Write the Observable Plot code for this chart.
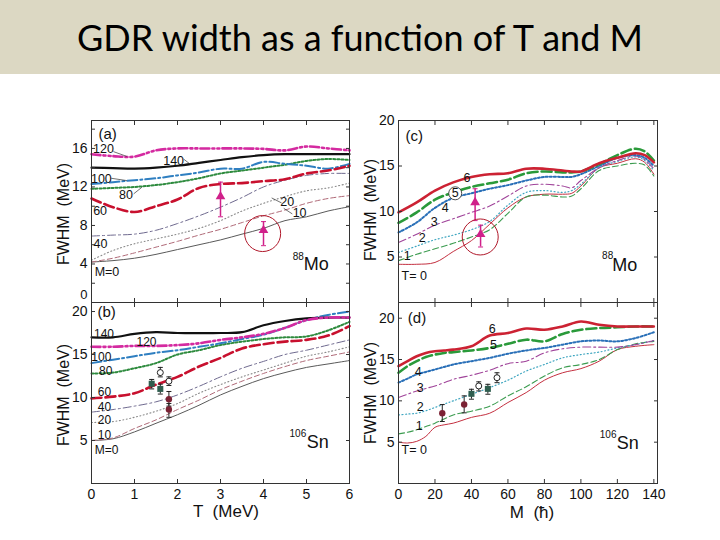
<!DOCTYPE html>
<html><head><meta charset="utf-8">
<script src="https://cdn.jsdelivr.net/npm/d3@7"></script>
<script src="https://cdn.jsdelivr.net/npm/@observablehq/plot@0.6"></script>
<style>
body{margin:0;background:#fff;}
#wrap{position:relative;width:720px;height:540px;overflow:hidden;font-family:"Liberation Sans",Arial,sans-serif;color:#111;}
#banner{position:absolute;left:0;top:0;width:720px;height:74px;background:#dcd8c3;}
#title{position:absolute;left:0;top:0;width:720px;text-align:center;font-family:Lato,"Open Sans",sans-serif;font-size:36px;line-height:74px;color:#000;white-space:nowrap;}
.pl{position:absolute;}
.pl svg{overflow:visible;background:transparent;}
.ylab{position:absolute;transform:translate(-50%,-50%) rotate(-90deg);white-space:pre;font-size:16px;}
.xlab{position:absolute;transform:translate(-50%,-50%);white-space:pre;font-size:17px;}
</style></head>
<body><div id="wrap">
<div id="banner"></div>
<div id="title">GDR width as a function of T and M</div>
</div>
<script>
// ---------- grids ----------
const T_GRID = [0,0.5,1,1.5,2,2.5,3,3.5,4,4.5,5,5.5,6];
const M_GRID_C = [0,10,20,30,40,50,60,70,80,90,95,100,110,120,130,135,140];
const M_GRID_D = [0,5,10,15,20,25,30,40,50,60,70,80,90,100,110,120,130,140];

// ---------- panel (a): 88Mo, FWHM vs T ----------
const moT_M0   = [4.2,4.35,4.6,5.0,5.5,6.0,6.5,7.1,7.7,8.5,8.9,9.5,9.95];
const moT_M10  = [4.2,4.6,5.15,5.75,6.35,7.0,7.6,8.3,9.0,9.6,10.3,10.8,11.1];
const moT_M20  = [4.4,5.4,6.1,6.6,7.1,7.7,8.5,9.5,10.3,11.0,11.6,11.9,12.4];
const moT_M40  = [6.9,7.0,7.1,7.5,8.2,9.0,9.9,10.9,12.0,12.7,13.2,13.4,13.4];
const moT_M60  = [10.8,9.9,9.4,10.0,10.7,11.9,12.3,12.4,12.6,12.8,13.4,13.7,14.2];
const moT_M80  = [11.8,11.9,12.0,12.2,12.5,12.9,13.4,13.7,14.0,14.3,14.7,14.9,14.8];
const moT_M100 = [12.3,12.5,12.7,12.9,13.2,13.5,13.9,13.9,14.6,14.4,14.2,13.9,14.4];
const moT_M120 = [15.4,15.2,15.15,15.8,16.0,16.0,16.0,16.0,15.95,15.8,16.2,16.0,15.8];
const moT_M140 = [14.0,13.95,13.9,14.0,14.2,14.5,14.8,15.1,15.3,15.4,15.4,15.4,15.4];

// ---------- panel (b): 106Sn, FWHM vs T ----------
const snT_M0   = [5.0,5.2,6.0,7.0,8.0,9.1,10.3,11.3,12.2,12.9,13.5,13.9,14.3];
const snT_M10  = [5.0,5.3,6.4,7.4,8.6,9.7,10.9,11.9,12.8,13.6,14.3,14.8,15.3];
const snT_M20  = [7.1,7.2,7.7,8.4,9.3,10.5,11.5,12.4,13.2,14.0,14.8,15.3,15.9];
const snT_M40  = [8.3,8.6,9.0,9.5,10.3,11.3,12.4,13.4,14.2,15.0,15.5,16.1,16.7];
const snT_M60  = [9.9,10.1,10.5,11.5,12.4,13.6,14.6,15.7,16.2,16.5,16.7,17.2,18.3];
const snT_M80  = [12.8,12.9,13.4,14.0,15.0,15.5,16.1,16.5,16.8,17.0,17.1,17.8,18.8];
const snT_M100 = [14.0,14.4,14.8,15.2,15.5,15.9,16.3,16.8,17.3,18.1,19.0,19.6,20.0];
const snT_M120 = [15.9,15.9,16.0,16.0,16.1,16.3,16.7,17.0,17.4,18.1,19.0,19.3,19.3];
const snT_M140 = [17.0,17.0,17.4,17.6,17.5,17.5,17.5,17.6,18.4,18.9,19.2,19.3,19.3];

// ---------- panel (c): 88Mo, FWHM vs M ----------
const moM_T0 = [4.2,4.2,4.4,5.6,6.8,8.6,10.4,11.6,11.9,11.9,12.0,12.8,14.8,15.3,15.8,15.4,14.1];
const moM_T1 = [4.6,5.3,5.9,6.5,7.2,8.0,9.8,11.6,11.8,11.6,11.7,12.5,14.5,15.0,15.3,15.1,13.9];
const moM_T2 = [5.5,6.2,6.9,7.4,8.0,8.9,10.7,12.1,12.3,12.1,12.3,13.0,14.8,15.5,16.0,15.6,14.5];
const moM_T3 = [6.6,7.5,8.5,9.2,9.9,10.6,11.7,12.8,13.0,12.8,12.6,13.4,14.8,15.6,16.1,15.7,14.7];
const moM_T4 = [7.7,8.8,10.4,11.5,12.0,12.5,12.9,13.4,13.8,13.8,13.8,14.1,15.0,15.9,16.2,15.9,15.0];
const moM_T5 = [8.75,9.9,11.3,12.1,12.7,13.1,13.5,14.2,14.4,14.3,14.3,14.4,15.2,16.2,16.9,16.6,15.6];
const moM_T6 = [9.9,11.0,12.3,13.2,13.8,14.1,14.2,14.7,14.7,14.5,14.4,14.4,15.3,15.9,16.4,16.2,15.4];

// ---------- panel (d): 106Sn, FWHM vs M ----------
const snM_T0 = [5.0,4.9,5.1,5.7,6.8,7.1,7.3,8.0,8.5,9.8,11.0,12.5,13.4,13.9,14.8,16.2,16.6,16.8];
const snM_T1 = [6.0,6.2,6.5,6.9,7.3,7.8,8.3,8.75,9.35,10.6,11.7,13.0,14.0,14.4,15.0,16.2,16.9,17.2];
const snM_T2 = [8.3,8.4,8.5,8.8,9.2,9.6,10.0,10.8,11.6,12.5,13.6,14.4,15.2,15.6,15.9,16.4,16.8,17.3];
const snM_T3 = [10.4,10.8,11.2,11.5,11.8,12.2,12.6,13.1,13.7,14.5,14.8,15.8,16.3,16.5,16.5,16.5,16.8,17.3];
const snM_T4 = [12.2,12.7,13.2,13.5,13.8,14.1,14.4,14.8,15.2,15.7,16.1,16.4,16.8,17.2,17.3,17.2,17.6,18.3];
const snM_T5 = [13.4,14.2,14.8,15.3,15.6,15.8,15.9,16.1,16.4,16.9,17.4,17.2,18.1,18.6,18.8,18.9,19.0,19.0];
const snM_T6 = [14.2,14.8,15.4,15.8,16.0,16.1,16.2,16.6,17.9,18.2,18.75,18.6,19.0,19.6,19.2,19.0,19.0,19.0];

// ---------- experimental points ----------
const moTri_T = [3, 4];          const moTri_W = [11.0, 7.5];  const moTri_lo = [8.9, 5.9];  const moTri_hi = [12.5, 8.4];
const moTri_M = [42, 45];
const moTri_Wc = [11.0, 7.5];    const moTri_loc = [9.0, 6.1]; const moTri_hic = [12.5, 8.5];
const snSq_T = [1.4, 1.6];  const snSq_W = [11.6, 11.0]; const snSq_lo = [11.0, 10.4]; const snSq_hi = [12.1, 11.55];
const snOp_T = [1.6, 1.8];  const snOp_W = [12.9, 11.9]; const snOp_lo = [12.4, 11.4]; const snOp_hi = [13.5, 12.4];
const snFc_T = [1.8, 1.8];  const snFc_W = [9.8, 8.6];   const snFc_lo = [9.0, 7.7];   const snFc_hi = [10.7, 9.3];
const snFc_M = [24, 36];    const snFc_Wd = [8.5, 9.55]; const snFc_lod = [7.5, 8.55]; const snFc_hid = [9.55, 10.6];
const snSq_M = [40, 49];    const snSq_Wd = [10.85, 11.45]; const snSq_lod = [10.2, 10.8]; const snSq_hid = [11.4, 12.0];
const snOp_M = [44, 54];    const snOp_Wd = [11.8, 12.8]; const snOp_lod = [11.2, 12.2]; const snOp_hid = [12.3, 13.4];

// ---------- curve labels ----------
const labA = [["120",0.28,15.9],["140",1.91,14.7],["100",0.23,12.8],["80",0.80,11.2],["60",0.2,9.55],["40",0.21,6.1],["M=0",0.36,3.15],["20",4.55,10.4],["10",4.84,9.26]];
const leadA = [[0.51,15.67,0.82,15.17],[2.14,14.9,2.3,14.35],[0.46,12.9,0.82,12.66],[0.98,11.28,1.17,11.96],[4.19,10.86,4.42,10.34],[4.47,9.78,4.67,9.2]];
const labB = [["140",0.29,17.4],["120",1.28,16.45],["100",0.23,14.7],["80",0.33,13.1],["60",0.3,10.6],["40",0.3,8.85],["20",0.3,7.35],["10",0.3,5.6],["M=0",0.35,3.9]];
const labC = [["6",37.6,13.7],["5",31.1,12.0],["4",25.6,10.4],["3",19.6,8.9],["2",13.0,7.07],["1",4.8,5.16],["T= 0",8.6,2.86]];
const labD = [["6",51.4,18.7],["5",52,16.8],["4",10.8,13.5],["3",11.9,11.5],["2",11.9,9.2],["1",11.3,6.9],["T= 0",8.6,4.1]];
const circ5C = [[31.1, 12.0]];
const ringA = [[3.98, 7.16]];
const ringC = [[44.8, 7.2]];

// ---------- styles ----------
const styleM = {
  0:   {stroke:"#5a5a5a", w:1,   dash:undefined},
  10:  {stroke:"#b06a78", w:1,   dash:"5,3"},
  20:  {stroke:"#8a8a8a", w:1.1, dash:"1,2.5"},
  40:  {stroke:"#6f6a8f", w:1,   dash:"8,3,2,3"},
  60:  {stroke:"#c8102e", w:2.6, dash:"10,4"},
  80:  {stroke:"#2e8b3e", w:2,   dash:"2,2"},
  100: {stroke:"#2f7fc1", w:2,   dash:"10,3,2,3"},
  120: {stroke:"#d42aa0", w:2.6, dash:"9,3,2,3,2,3"},
  140: {stroke:"#111111", w:2.2, dash:undefined}
};
const styleT = {
  0: {stroke:"#c43040", w:1,   dash:undefined},
  1: {stroke:"#3c9c50", w:1.1, dash:"6,3"},
  2: {stroke:"#3fa6c0", w:1.2, dash:"1,2.5"},
  3: {stroke:"#a0449a", w:1.1, dash:"8,3,2,3"},
  4: {stroke:"#2a70b8", w:2,   dash:"2,2"},
  5: {stroke:"#2a9a3a", w:2.6, dash:"10,4"},
  6: {stroke:"#cc2233", w:2.6, dash:undefined}
};

const seriesA = [[0,moT_M0],[10,moT_M10],[20,moT_M20],[40,moT_M40],[80,moT_M80],[100,moT_M100],[60,moT_M60],[140,moT_M140],[120,moT_M120]];
const seriesB = [[0,snT_M0],[10,snT_M10],[20,snT_M20],[40,snT_M40],[80,snT_M80],[100,snT_M100],[60,snT_M60],[140,snT_M140],[120,snT_M120]];
const seriesC = [[0,moM_T0],[1,moM_T1],[2,moM_T2],[3,moM_T3],[4,moM_T4],[5,moM_T5],[6,moM_T6]];
const seriesD = [[0,snM_T0],[1,snM_T1],[2,snM_T2],[3,snM_T3],[4,snM_T4],[5,snM_T5],[6,snM_T6]];

function lines(grid, series, styles) {
  return series.map(([k, vals]) => {
    const s = styles[k];
    const rows = grid.map((x, i) => ({x, y: vals[i]}));
    return Plot.line(rows, {x:"x", y:"y", stroke:s.stroke, strokeWidth:s.w, strokeDasharray:s.dash, curve:"catmull-rom"});
  });
}
const zipPts = (xs, ys, lo, hi) => xs.map((x,i) => ({x, y:ys[i], lo:lo[i], hi:hi[i]}));
const capSym = {draw(c, s){ const r = Math.sqrt(s/Math.PI); c.moveTo(-r,0); c.lineTo(r,0); }};
function errPts(pts, opts) {
  const col = opts.bar;
  return [
    Plot.ruleX(pts, {x:"x", y1:"lo", y2:"hi", stroke:col, strokeWidth:opts.bw ?? 1}),
    Plot.dot(pts, {x:"x", y:"lo", symbol:capSym, r:2.5, stroke:col, fill:"none", strokeWidth:1}),
    Plot.dot(pts, {x:"x", y:"hi", symbol:capSym, r:2.5, stroke:col, fill:"none", strokeWidth:1}),
    Plot.dot(pts, {x:"x", y:"y", symbol:opts.symbol, r:opts.r, fill:opts.fill, stroke:opts.stroke ?? "none", strokeWidth:1})
  ];
}
function textLabels(arr, size) {
  return Plot.text(arr, {x:d=>d[1], y:d=>d[2], text:d=>d[0], fontSize:size, fill:"#111", textAnchor:"middle", lineAnchor:"middle"});
}
function tag(t, dx, dy) {
  return Plot.text([t], {frameAnchor:"top-left", dx, dy, fontSize:15, textAnchor:"start", lineAnchor:"middle", fill:"#111"});
}
function nucleus(mass, sym, dxS, dyS, dxM, dyM) {
  return [
    Plot.text([sym], {frameAnchor:"bottom-right", dx:dxS, dy:dyS, fontSize:18, textAnchor:"end", lineAnchor:"middle", fill:"#111"}),
    Plot.text([mass], {frameAnchor:"bottom-right", dx:dxM, dy:dyM, fontSize:10, textAnchor:"end", lineAnchor:"middle", fill:"#111"})
  ];
}

function panel({x0, y0, fw, fh, xDomain, yDomain, xTicks, xMinor, yTicks, yLift, yMinor, showX, marks}) {
  const mL = 50, mR = 12, mT = 10, mB = showX ? 30 : 10;
  const chart = Plot.plot({
    width: fw + mL + mR, height: fh + mT + mB,
    marginLeft: mL, marginRight: mR, marginTop: mT, marginBottom: mB,
    style: {background:"transparent", overflow:"visible", fontFamily:"'Liberation Sans', Arial, sans-serif", color:"#111"},
    x: {domain: xDomain}, y: {domain: yDomain},
    marks: [
      ...marks,
      Plot.axisY(yMinor, {anchor:"left", tickSize:-4, tickFormat:()=>"", label:null, stroke:"#333"}),
      Plot.axisY(yMinor, {anchor:"right", tickSize:-4, tickFormat:()=>"", label:null, stroke:"#333"}),
      Plot.axisX(xMinor, {anchor:"top", tickSize:-4, tickFormat:()=>"", label:null, stroke:"#333"}),
      Plot.axisX(xMinor, {anchor:"bottom", tickSize:-4, tickFormat:()=>"", label:null, stroke:"#333"}),
      Plot.axisY(yTicks, {anchor:"left", tickSize:0, tickPadding:4, fontSize:14, label:null, tickFormat:d=>String(d)}),
      ...(yLift ? [Plot.axisY(yLift, {anchor:"left", tickSize:0, tickPadding:4, fontSize:13, label:null, dy:-8, tickFormat:d=>String(d)})] : []),
      ...(showX ? [Plot.axisX(xTicks, {anchor:"bottom", tickSize:0, tickPadding:6, fontSize:14, label:null, tickFormat:d=>String(d)})] : []),
      Plot.frame({stroke:"#333", strokeWidth:1})
    ]
  });
  const div = document.createElement("div");
  div.className = "pl";
  div.style.left = (x0 - mL) + "px";
  div.style.top = (y0 - mT) + "px";
  div.appendChild(chart);
  document.getElementById("wrap").appendChild(div);
}

const mag = "#d0208a";
const triA = zipPts(moTri_T, moTri_W, moTri_lo, moTri_hi);
const triC = zipPts(moTri_M, moTri_Wc, moTri_loc, moTri_hic);

panel({x0:91, y0:120, fw:258, fh:182, xDomain:[0,6], yDomain:[0,18.9],
  xTicks:[0,1,2,3,4,5,6], xMinor:[1,2,3,4,5], yTicks:[4,8,12,16], yLift:[0], yMinor:[2,4,6,8,10,12,14,16,18], showX:false,
  marks:[
    ...lines(T_GRID, seriesA, styleM),
    Plot.link(leadA, {x1:d=>d[0], y1:d=>d[1], x2:d=>d[2], y2:d=>d[3], stroke:"#333", strokeWidth:0.7}),
    textLabels(labA, 12.5),
    ...errPts(triA, {bar:mag, bw:1.5, symbol:"triangle", r:3.6, fill:mag}),
    Plot.dot(ringA, {x:d=>d[0], y:d=>d[1], r:18, stroke:"#b0182a", fill:"none", strokeWidth:1}),
    tag("(a)", 7, 13.5),
    ...nucleus("88", "Mo", -20.7, -38.5, -45.7, -45.3)
  ]});

panel({x0:91, y0:302, fw:258, fh:181, xDomain:[0,6], yDomain:[0,21.05],
  xTicks:[0,1,2,3,4,5,6], xMinor:[1,2,3,4,5], yTicks:[5,10,15,20], yMinor:[5,10,15,20], showX:true,
  marks:[
    ...lines(T_GRID, seriesB, styleM),
    textLabels(labB, 12),
    ...errPts(zipPts(snSq_T, snSq_W, snSq_lo, snSq_hi), {bar:"#222", symbol:"square", r:3.4, fill:"#2f5e4f"}),
    ...errPts(zipPts(snOp_T, snOp_W, snOp_lo, snOp_hi), {bar:"#222", symbol:"circle", r:3, fill:"#fff", stroke:"#222"}),
    ...errPts(zipPts(snFc_T, snFc_W, snFc_lo, snFc_hi), {bar:"#222", symbol:"circle", r:3.2, fill:"#7b2234"}),
    tag("(b)", 6, 9.7),
    ...nucleus("106", "Sn", -20.7, -41.3, -43.3, -49.7)
  ]});

panel({x0:398, y0:120, fw:259, fh:182, xDomain:[0,142], yDomain:[0,20],
  xTicks:[0,20,40,60,80,100,120,140], xMinor:[20,40,60,80,100,120,140], yTicks:[5,10,15,20], yMinor:[5,10,15], showX:false,
  marks:[
    ...lines(M_GRID_C, seriesC, styleT),
    ...errPts(triC, {bar:mag, bw:1.5, symbol:"triangle", r:3.6, fill:mag}),
    Plot.dot(ringC, {x:d=>d[0], y:d=>d[1], r:18, stroke:"#b0182a", fill:"none", strokeWidth:1}),
    Plot.dot(circ5C, {x:d=>d[0], y:d=>d[1], r:6.5, stroke:"#222", fill:"#fff", strokeWidth:0.8}),
    textLabels(labC, 12.5),
    tag("(c)", 7, 15.5),
    ...nucleus("88", "Mo", -20.3, -37, -44.3, -47)
  ]});

panel({x0:398, y0:302, fw:259, fh:181, xDomain:[0,142], yDomain:[0,21.9],
  xTicks:[0,20,40,60,80,100,120,140], xMinor:[20,40,60,80,100,120,140], yTicks:[5,10,15,20], yMinor:[5,10,15,20], showX:true,
  marks:[
    ...lines(M_GRID_D, seriesD, styleT),
    ...errPts(zipPts(snFc_M, snFc_Wd, snFc_lod, snFc_hid), {bar:"#222", symbol:"circle", r:3.2, fill:"#7b2234"}),
    ...errPts(zipPts(snSq_M, snSq_Wd, snSq_lod, snSq_hid), {bar:"#222", symbol:"square", r:3.4, fill:"#2f5e4f"}),
    ...errPts(zipPts(snOp_M, snOp_Wd, snOp_lod, snOp_hid), {bar:"#222", symbol:"circle", r:3, fill:"#fff", stroke:"#222"}),
    textLabels(labD, 12.5),
    tag("(d)", 9.3, 15.8),
    ...nucleus("106", "Sn", -18.7, -40.7, -41, -49)
  ]});

// axis titles
const wrap = document.getElementById("wrap");
function addLab(cls, text, x, y) {
  const d = document.createElement("div");
  d.className = cls; d.textContent = text;
  d.style.left = x + "px"; d.style.top = y + "px";
  wrap.appendChild(d);
}
addLab("ylab", "FWHM  (MeV)", 64, 214);
addLab("ylab", "FWHM  (MeV)", 64, 395);
addLab("ylab", "FWHM  (MeV)", 371, 210);
addLab("ylab", "FWHM  (MeV)", 371, 393);
addLab("xlab", "T  (MeV)", 226, 512);
addLab("xlab", "M  (\u0127)", 532, 513);
</script>
</body></html>
